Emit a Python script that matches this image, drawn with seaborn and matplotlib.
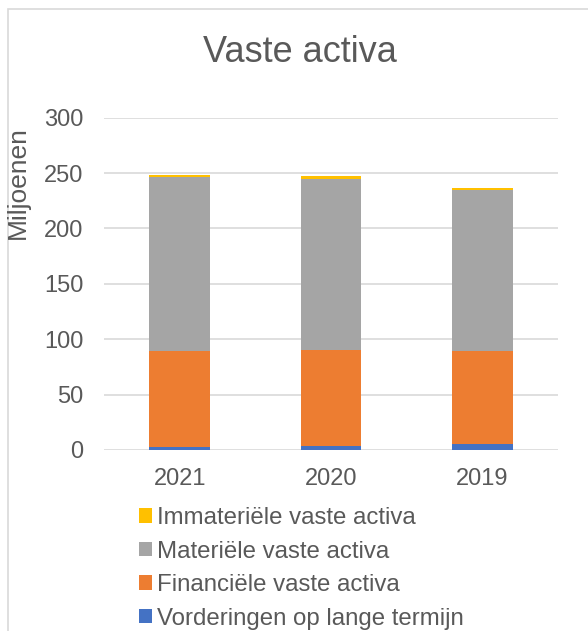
import numpy as np
import pandas as pd
import matplotlib.pyplot as plt
import seaborn as sns
from matplotlib.patches import Patch, Rectangle

# data (millions)
years = ["2021", "2020", "2019"]
vorderingen = [2.4, 3.6, 5.1]
financiele = [87.3, 86.7, 84.1]
materiele = [157.2, 154.8, 145.4]
immateriele = [1.2, 2.1, 1.8]

labels = ["Vorderingen op lange termijn", "Financiële vaste activa",
          "Materiële vaste activa", "Immateriële vaste activa"]
colors = ["#4472C4", "#ED7D31", "#A5A5A5", "#FFC000"]

df = pd.DataFrame({"Jaar": years, "v": vorderingen, "f": financiele,
                   "m": materiele, "i": immateriele})
df["c1"] = df["v"]
df["c2"] = df["c1"] + df["f"]
df["c3"] = df["c2"] + df["m"]
df["c4"] = df["c3"] + df["i"]

sns.set_style("white")
plt.rcParams["font.family"] = ["Liberation Sans", "DejaVu Sans"]
txt = "#595959"

fig = plt.figure(figsize=(5.88, 6.31), dpi=100)
ax = fig.add_axes([104 / 588, 1 - 450 / 631, 454 / 588, 332.3 / 631])

# stacked bars: draw cumulative totals from the top layer down
for col, c in zip(["c4", "c3", "c2", "c1"], colors[::-1]):
    sns.barplot(data=df, x="Jaar", y=col, order=years, color=c,
                width=0.4, linewidth=0, saturation=1, ax=ax, zorder=3)

ax.set_xlim(-0.5, 2.5)
ax.set_ylim(0, 300)
ax.set_yticks(range(0, 301, 50))
ax.set_xlabel("")
ax.set_ylabel("")
ax.yaxis.grid(True, color="#D9D9D9", linewidth=1.2, zorder=0)
ax.set_axisbelow(True)
sns.despine(ax=ax, left=True, bottom=True)
ax.tick_params(axis="y", length=0, pad=15, labelsize=17, labelcolor=txt)
ax.tick_params(axis="x", length=0, pad=13, labelsize=17, labelcolor=txt)

fig.text(300 / 588, 1 - 53 / 631, "Vaste activa", fontsize=26, color=txt,
         ha="center", va="center")
fig.text(18 / 588, 1 - 183 / 631, "Miljoenen", fontsize=19, color=txt,
         rotation=90, ha="center", va="center")

handles = [Patch(facecolor=c, edgecolor="none") for c in colors]
fig.legend(handles[::-1], labels[::-1], loc="upper left",
           bbox_to_anchor=(139 / 588, 1 - 507 / 631), frameon=False,
           fontsize=17.3, labelcolor=txt, handlelength=0.55, handleheight=0.55,
           handletextpad=0.2, labelspacing=0.48, borderpad=0, borderaxespad=0)

# chart frame
fig.patches.append(Rectangle((8 / 588, -0.05), 1.0, 1 - 9 / 631 + 0.05,
                             transform=fig.transFigure, fill=False,
                             edgecolor="#D9D9D9", linewidth=1.2))

fig.savefig("out.png", dpi=100)
